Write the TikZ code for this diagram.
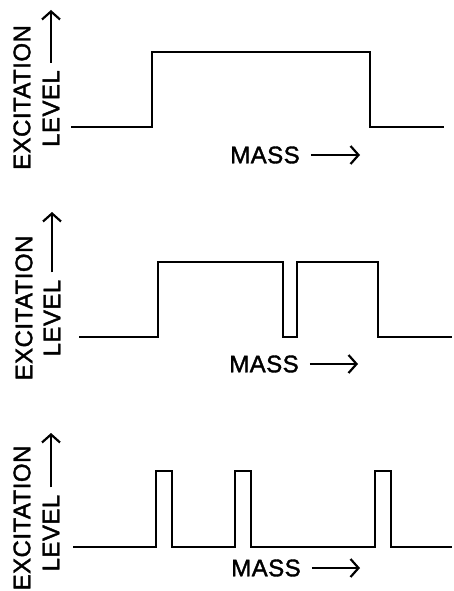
\documentclass[tikz,border=0pt]{standalone}
\usepackage{fontspec}
\setmainfont{Liberation Sans}[LetterSpace=2, FakeBold=1.6]
\usetikzlibrary{arrows.meta}

\tikzset{
  trace/.style={line width=2.8pt, line join=miter},
  lbl/.style={font=\fontsize{24}{27}\selectfont, inner sep=0pt},
  axarrow/.style={line width=2.2pt, -{Straight Barb[length=8pt, width=18pt]}}
}

\begin{document}
\begin{tikzpicture}[x=1pt, y=-1pt]
            \useasboundingbox (0,0) rectangle (453,591);

            % Top: one broad band
            \draw[trace] (71,127) -- (152,127) -- (152,52) -- (370,52) -- (370,127) -- (444,127);
            \node[lbl, rotate=90] (excA) at (22,97.5) {EXCITATION};
            \node[lbl, rotate=90] (lvlA) at (51,108.5) {LEVEL};
            \coordinate (upA) at (51,10);
            \draw[axarrow, shorten <=7pt] (lvlA.east) -- (upA);
            \node[lbl] (massA) at (265,155) {MASS};
            \coordinate (rtA) at (360,155);
            \draw[axarrow, shorten <=11pt] (massA.east) -- (rtA);

            % Middle: band with a narrow notch
            \draw[trace] (79,337) -- (158,337) -- (158,262) -- (283,262) -- (283,337) -- (297,337)
                -- (297,262) -- (378,262) -- (378,337) -- (452,337);
            \node[lbl, rotate=90] (excB) at (24,308) {EXCITATION};
            \node[lbl, rotate=90] (lvlB) at (52,318) {LEVEL};
            \coordinate (upB) at (52,212);
            \draw[axarrow, shorten <=7pt] (lvlB.east) -- (upB);
            \node[lbl] (massB) at (264,364) {MASS};
            \coordinate (rtB) at (358,364);
            \draw[axarrow, shorten <=11pt] (massB.east) -- (rtB);

            % Bottom: three narrow peaks
            \draw[trace] (73,547) -- (156,547) -- (156,471) -- (172,471) -- (172,547) -- (235,547)
                -- (235,471) -- (251,471) -- (251,547) -- (375,547) -- (375,471) -- (391,471)
                -- (391,547) -- (452,547);
            \node[lbl, rotate=90] (excC) at (22,518) {EXCITATION};
            \node[lbl, rotate=90] (lvlC) at (51,533) {LEVEL};
            \coordinate (upC) at (51,433);
            \draw[axarrow, shorten <=7pt] (lvlC.east) -- (upC);
            \node[lbl] (massC) at (266,568) {MASS};
            \coordinate (rtC) at (360,568);
            \draw[axarrow, shorten <=11pt] (massC.east) -- (rtC);
\end{tikzpicture}
\end{document}
